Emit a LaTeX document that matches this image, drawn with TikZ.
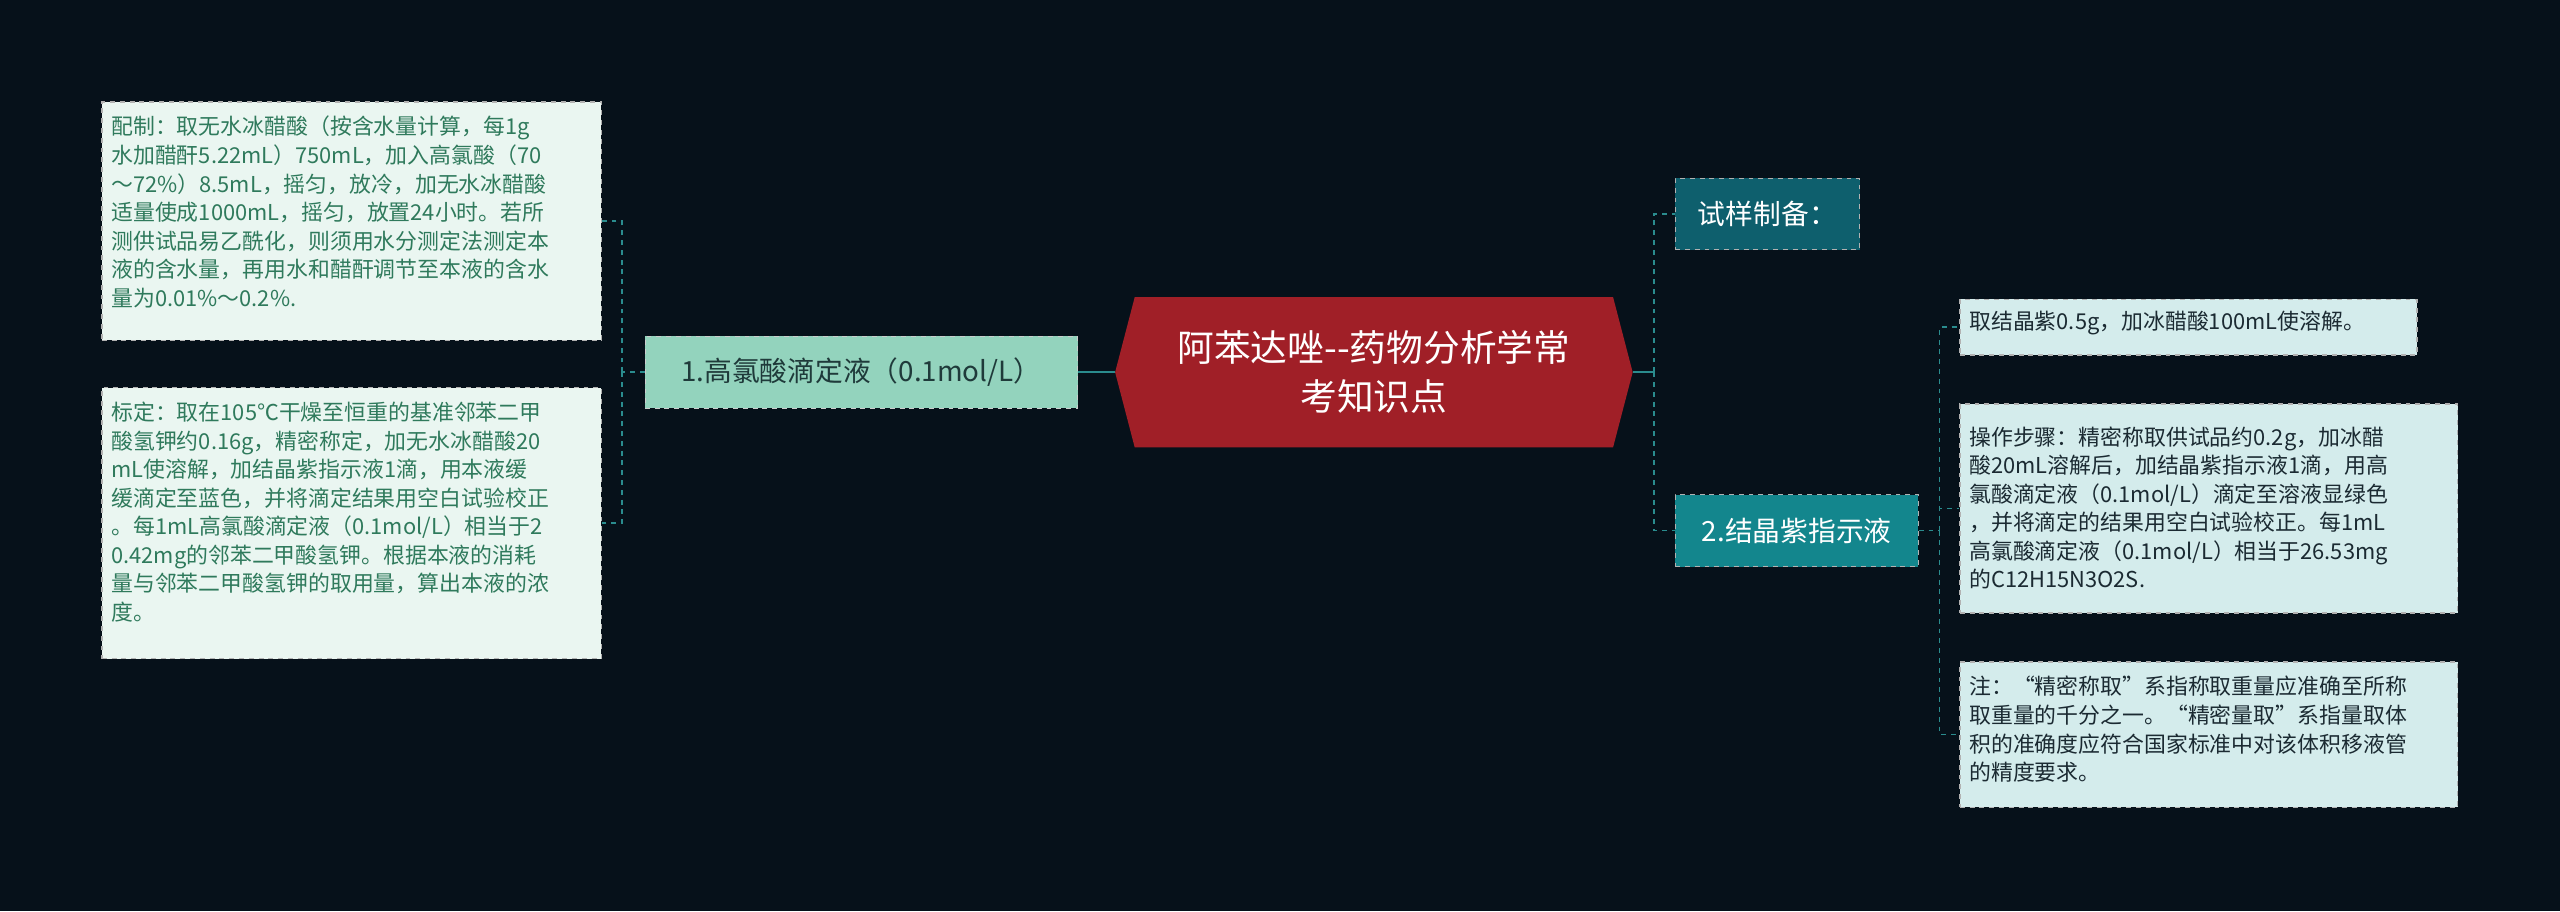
\documentclass[tikz,border=0pt]{standalone}
\usepackage{fontspec}
\setmainfont{Noto Sans CJK SC}
\definecolor{bg}{HTML}{06111A}
\definecolor{lbox}{HTML}{EAF6F1}
\definecolor{ltext}{HTML}{2F7A5C}
\definecolor{nodeA}{HTML}{93D3BD}
\definecolor{ctr}{HTML}{A01F27}
\definecolor{nodeB}{HTML}{0E5F6D}
\definecolor{nodeC}{HTML}{13868D}
\definecolor{rbox}{HTML}{D4ECEC}
\definecolor{rtext}{HTML}{1B2A32}
\definecolor{ln}{HTML}{2A8C8E}
\tikzset{
 x=1pt,y=-1pt,
 box/.style={draw=gray!60,dashed,line width=0.8pt,inner sep=0pt,anchor=north west},
 lbx/.style={box,fill=lbox},
 rbx/.style={box,fill=rbox},
 txt/.style={inner xsep=6pt,inner ysep=9pt,align=left,anchor=north west,font=\fontsize{13.4}{17.5}\selectfont},
 ltxt/.style={txt,text=ltext},
 rtxt/.style={txt,text=rtext},
 conn/.style={ln,dashed,line width=1pt},
}
\begin{document}
\begin{tikzpicture}
\fill[bg] (0,0) rectangle (1568,558);
\useasboundingbox (0,0) rectangle (1568,558);
% center
\fill[ctr] (683,228) -- (695,182) -- (988,182) -- (1000,228) -- (988,274) -- (695,274) -- cycle;
\node[minimum width=317pt,minimum height=92pt,text=white,align=center,font=\fontsize{22.5}{30}\selectfont,inner sep=0pt] (c) at (841.5,228) {阿苯达唑-{}-药物分析学常\\考知识点};
% level 1
\node[fill=nodeA,draw=gray!40,dashed,minimum width=265pt,minimum height=44pt,text=rtext!80!ltext,font=\fontsize{17}{20}\selectfont] (a) at (527.5,228) {1.高氯酸滴定液（0.1mol/L）};
\node[fill=nodeB,draw=gray!60,dashed,minimum width=113pt,minimum height=44pt,text=white,font=\fontsize{17}{20}\selectfont] (b) at (1082.5,131) {试样制备：};
\node[fill=nodeC,draw=gray!60,dashed,minimum width=149pt,minimum height=44pt,text=white,font=\fontsize{17}{20}\selectfont] (d) at (1100.5,325) {2.结晶紫指示液};
% left leaves
\node[lbx,minimum width=306pt,minimum height=146pt] (l1) at (62,62) {};
\node[ltxt,text width=294pt] (l1t) at (l1.north west) {配制：取无水冰醋酸（按含水量计算，每1g\\水加醋酐5.22mL）750mL，加入高氯酸（70\\～72\%）8.5mL，摇匀，放冷，加无水冰醋酸\\适量使成1000mL，摇匀，放置24小时。若所\\测供试品易乙酰化，则须用水分测定法测定本\\液的含水量，再用水和醋酐调节至本液的含水\\量为0.01\%～0.2\%.};
\node[lbx,minimum width=306pt,minimum height=166pt] (l2) at (62,237) {};
\node[ltxt,text width=294pt] (l2t) at (l2.north west) {标定：取在105℃干燥至恒重的基准邻苯二甲\\酸氢钾约0.16g，精密称定，加无水冰醋酸20\\mL使溶解，加结晶紫指示液1滴，用本液缓\\缓滴定至蓝色，并将滴定结果用空白试验校正\\。每1mL高氯酸滴定液（0.1mol/L）相当于2\\0.42mg的邻苯二甲酸氢钾。根据本液的消耗\\量与邻苯二甲酸氢钾的取用量，算出本液的浓\\度。};
% right leaves
\node[rbx,minimum width=280pt,minimum height=34pt] (r1) at (1200,183) {};
\node[rtxt,text width=268pt,inner ysep=7pt] (r1t) at (r1.north west) {取结晶紫0.5g，加冰醋酸100mL使溶解。};
\node[rbx,minimum width=305pt,minimum height=128pt] (r2) at (1200,247) {};
\node[rtxt,text width=293pt,inner ysep=14pt] (r2t) at (r2.north west) {操作步骤：精密称取供试品约0.2g，加冰醋\\酸20mL溶解后，加结晶紫指示液1滴，用高\\氯酸滴定液（0.1mol/L）滴定至溶液显绿色\\，并将滴定的结果用空白试验校正。每1mL\\高氯酸滴定液（0.1mol/L）相当于26.53mg\\的C12H15N3O2S.};
\node[rbx,minimum width=305pt,minimum height=89pt] (r3) at (1200,405) {};
\node[rtxt,text width=293pt] (r3t) at (r3.north west) {注：“精密称取”系指称取重量应准确至所称\\取重量的千分之一。“精密量取”系指量取体\\积的准确度应符合国家标准中对该体积移液管\\的精度要求。};
% connectors
\draw[ln,line width=1pt] (c.west) -- (a.east);
\coordinate (jl) at (381,228);
\draw[conn] (a.west) -- (jl);
\draw[conn] (jl) |- (l1.east);
\draw[conn] (jl) |- (l2.east);
\coordinate (jr) at (1013,228);
\draw[ln,line width=1pt] (c.east) -- (jr);
\draw[conn] (jr) |- (b.west);
\draw[conn] (jr) |- (d.west);
\coordinate (jd) at (1188,325);
\draw[conn] (d.east) -- (jd);
\draw[conn] (jd) |- (r1.west);
\draw[conn] (jd) |- (r2.west);
\draw[conn] (jd) |- (r3.west);
\end{tikzpicture}
\end{document}
